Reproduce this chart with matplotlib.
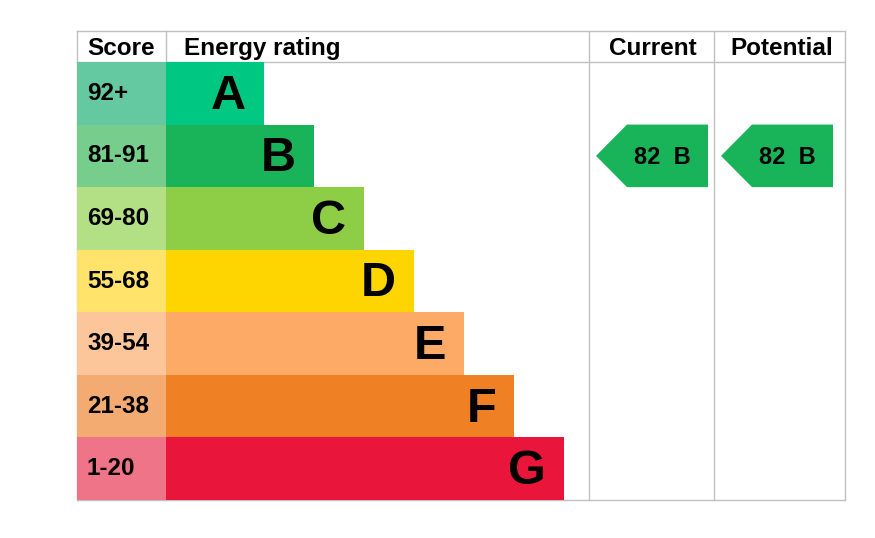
import matplotlib.pyplot as plt
from matplotlib.patches import Rectangle, Polygon

plt.rcParams['font.family'] = ['Liberation Sans', 'DejaVu Sans']

bands = ['A', 'B', 'C', 'D', 'E', 'F', 'G']
scores = ['92+', '81-91', '69-80', '55-68', '39-54', '21-38', '1-20']
bar_colors = ['#00c781', '#19b459', '#8dce46', '#ffd500', '#fcaa65', '#ef8023', '#e9153b']
score_colors = ['#64c8a0', '#77cd8b', '#b3df85', '#ffe36b', '#fdc69a', '#f4ab72', '#f07487']
current = 82
potential = 82
current_band = 'B'
potential_band = 'B'

fig = plt.figure(figsize=(8.75, 5.38), dpi=100)
ax = fig.add_axes([0, 0, 1, 1])
ax.set_xlim(0, 875)
ax.set_ylim(538, 0)
ax.axis('off')

left, top, head = 77, 31, 62
row_h = (500 - head) / 7
c_score, c_rate, c_cur, right = 166, 589, 714, 845
bottom = head + row_h * len(bands)
grid = '#c0c0c0'

# grid lines
for y in (top, head, bottom):
    ax.plot([left, right], [y, y], color=grid, lw=1, zorder=1)
for x in (left, c_score, c_rate, c_cur, right):
    ax.plot([x, x], [top, bottom], color=grid, lw=1, zorder=1)

# header, baseline placed
hdr = dict(fontsize=17.5, fontweight='bold', va='baseline')
base_h = (top + head) / 2 + 8.5
ax.text(left + 10, base_h, 'Score', ha='left', **hdr)
ax.text(c_score + 18, base_h, 'Energy rating', ha='left', **hdr)
ax.text((c_rate + c_cur) / 2 + 1, base_h, 'Current', ha='center', **hdr)
ax.text((c_cur + right) / 2 + 2, base_h, 'Potential', ha='center', **hdr)

for i, (b, s) in enumerate(zip(bands, scores)):
    y0 = head + i * row_h
    ym = y0 + row_h / 2
    ax.add_patch(Rectangle((left, y0), c_score - left, row_h, color=score_colors[i], lw=0, zorder=2))
    w = 98 + 50 * i
    ax.add_patch(Rectangle((c_score, y0), w, row_h, color=bar_colors[i], lw=0, zorder=2))
    ax.text(left + 10, ym + 6.5, s, fontsize=17.5, fontweight='bold', va='baseline', ha='left', zorder=3)
    ax.text(c_score + w - 18, ym + 15.5, b, fontsize=35, fontweight='bold', va='baseline', ha='right', zorder=3)


def arrow(x0, x1, value, band):
    i = bands.index(band)
    y0 = head + i * row_h
    y1 = y0 + row_h
    ym = (y0 + y1) / 2
    pts = [(x0, ym), (x0 + 31, y0), (x1, y0), (x1, y1), (x0 + 31, y1)]
    ax.add_patch(Polygon(pts, closed=True, color=bar_colors[i], lw=0, zorder=2))
    ax.text((x0 + 31 + x1) / 2 - 5.5, ym + 8, f'{value}  {band}', fontsize=17, fontweight='bold',
            ha='center', va='baseline', zorder=3)


arrow(596, 708, current, current_band)
arrow(721, 833, potential, potential_band)

fig.savefig('out.png', dpi=100)
